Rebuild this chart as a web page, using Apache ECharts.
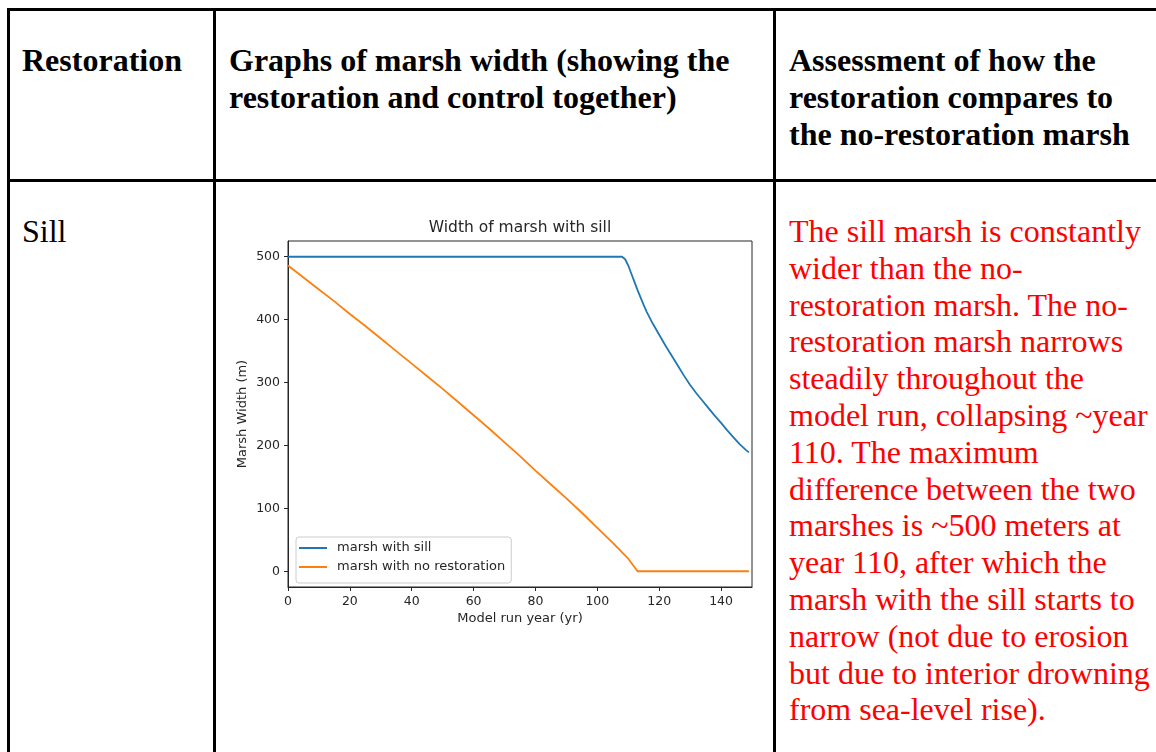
<!DOCTYPE html>
<html>
<head>
<meta charset="utf-8">
<script src="https://cdn.jsdelivr.net/npm/echarts@6/dist/echarts.min.js"></script>
<style>
    html, body {
        margin: 0;
        padding: 0;
        width: 1156px;
        height: 752px;
        overflow: hidden;
        background: #fff;
    }
    .rule {
        position: absolute;
        background: #000;
    }
    .cell {
        position: absolute;
        font-family: "Liberation Serif", "Times New Roman", serif;
        font-size: 32px;
        line-height: 36.8px;
        white-space: nowrap;
        color: #000;
    }
    .head {
        font-weight: bold;
    }
    .note {
        color: #ff0000;
    }
</style>
</head>
<body>
    <!-- table rules -->
    <div class="rule" style="left:7px; top:8px; width:1149px; height:3px;"></div>
    <div class="rule" style="left:7px; top:179px; width:1149px; height:3px;"></div>
    <div class="rule" style="left:7px; top:8px; width:3px; height:744px;"></div>
    <div class="rule" style="left:213px; top:8px; width:3px; height:744px;"></div>
    <div class="rule" style="left:773px; top:8px; width:3px; height:744px;"></div>

    <!-- header row -->
    <div class="cell head" style="left:22px; top:42px;">Restoration</div>
    <div class="cell head" style="left:229px; top:42px;">Graphs of marsh width (showing the<br>restoration and control together)</div>
    <div class="cell head" style="left:789px; top:42px;">Assessment of how the<br>restoration compares to<br>the no-restoration marsh</div>

    <!-- body row -->
    <div class="cell" style="left:22px; top:213px;">Sill</div>
    <div class="cell note" style="left:789px; top:213px;">The sill marsh is constantly<br>wider than the no-<br>restoration marsh. The no-<br>restoration marsh narrows<br>steadily throughout the<br>model run, collapsing ~year<br>110. The maximum<br>difference between the two<br>marshes is ~500 meters at<br>year 110, after which the<br>marsh with the sill starts to<br>narrow (not due to erosion<br>but due to interior drowning<br>from sea-level rise).</div>

    <div id="chart" style="position:absolute; left:229px; top:205px; width:540px; height:430px;"></div>

<script>
    // 数据：横轴为模型年份
    const sillYears = [0, 20, 40, 60, 80, 100, 108, 109, 110, 111, 112, 113, 114, 115, 116, 118, 120, 122, 124, 126, 128, 130, 132, 134, 136, 138, 140, 142, 144, 146, 148, 149]
    const sillWidth = [500, 500, 500, 500, 500, 500, 500, 496, 486, 473, 460, 447, 435, 423, 412, 393, 376, 359, 343, 327, 311, 296, 283, 271, 259, 247, 236, 224, 213, 202, 193, 189]

    const noRestYears = [0, 5, 10, 15, 20, 25, 30, 35, 40, 45, 50, 55, 60, 65, 70, 75, 80, 85, 90, 95, 100, 105, 110, 113, 120, 130, 140, 149]
    const noRestWidth = [486, 467, 448, 429, 409, 390, 370, 350, 330, 310, 290, 269, 248, 227, 205, 183, 160, 138, 116, 93, 69, 45, 20, 0, 0, 0, 0, 0]

    const xTicks = [0, 20, 40, 60, 80, 100, 120, 140]
    const yTicks = [0, 100, 200, 300, 400, 500]

    const seriesNames = ['marsh with sill', 'marsh with no restoration']

    var myChart = echarts.init(document.getElementById('chart'));

    const tickFont = {
        fontFamily: 'DejaVu Sans',
        fontSize: 12.5,
        color: '#262626'
    }
    const labelFont = {
        fontFamily: 'DejaVu Sans',
        fontSize: 13,
        color: '#262626'
    }

    var option = {
        animation: false,
        title: {
            text: 'Width of marsh with sill',
            left: 291,
            top: 15,
            textAlign: 'center',
            padding: 0,
            textStyle: {
                fontFamily: 'DejaVu Sans',
                fontSize: 15.5,
                fontWeight: 'normal',
                color: '#262626'
            }
        },
        grid: {
            left: 59,
            top: 36,
            width: 464,
            height: 346,
            outerBoundsMode: 'none',
            containLabel: false,
            show: true,
            borderColor: '#262626',
            borderWidth: 1
        },
        legend: {
            orient: 'vertical',
            left: 67,
            top: 332,
            data: seriesNames,
            icon: 'rect',
            itemWidth: 28,
            itemHeight: 2,
            itemGap: 5,
            padding: [4, 6, 9, 3],
            backgroundColor: '#fff',
            borderColor: '#cccccc',
            borderWidth: 1,
            borderRadius: 3,
            textStyle: Object.assign({ lineHeight: 14, padding: [0, 0, 0, 5] }, labelFont)
        },
        xAxis: {
            type: 'value',
            min: 0,
            max: 150,
            name: 'Model run year (yr)',
            nameLocation: 'middle',
            nameGap: 25,
            nameMoveOverlap: false,
            nameTextStyle: labelFont,
            axisLine: { onZero: false, lineStyle: { color: '#262626', width: 1 } },
            axisTick: { show: true, length: 4, customValues: xTicks, lineStyle: { color: '#262626' } },
            axisLabel: Object.assign({ customValues: xTicks, margin: 8 }, tickFont),
            splitLine: { show: false }
        },
        yAxis: {
            type: 'value',
            min: -25,
            max: 525,
            name: 'Marsh Width (m)',
            nameLocation: 'middle',
            nameGap: 39,
            nameMoveOverlap: false,
            nameTextStyle: labelFont,
            axisLine: { show: true, onZero: false, lineStyle: { color: '#262626', width: 1 } },
            axisTick: { show: true, length: 4, customValues: yTicks, lineStyle: { color: '#262626' } },
            axisLabel: Object.assign({ customValues: yTicks, margin: 8 }, tickFont),
            splitLine: { show: false }
        },
        series: [
            {
                name: seriesNames[0],
                type: 'line',
                showSymbol: false,
                color: '#1f77b4',
                lineStyle: { width: 1.8 },
                data: sillYears.map((x, i) => [x, sillWidth[i]])
            },
            {
                name: seriesNames[1],
                type: 'line',
                showSymbol: false,
                color: '#ff7f0e',
                lineStyle: { width: 1.8 },
                data: noRestYears.map((x, i) => [x, noRestWidth[i]])
            }
        ]
    };

    myChart.setOption(option);
</script>
</body>
</html>
